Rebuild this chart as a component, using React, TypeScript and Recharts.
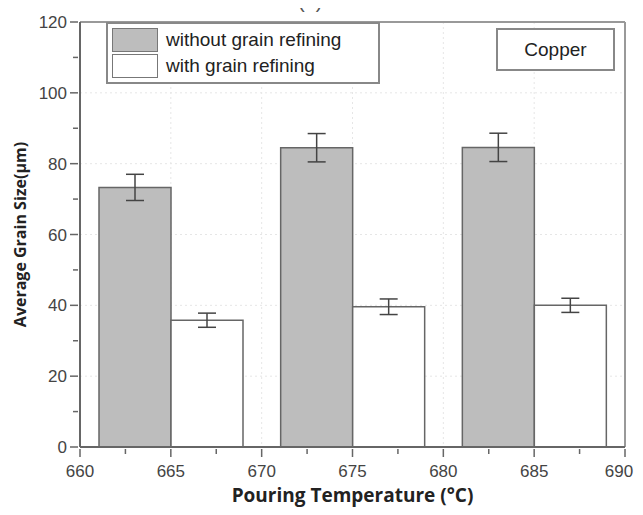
import { BarChart, Bar, XAxis, YAxis, CartesianGrid, ErrorBar, Legend, ReferenceLine } from 'recharts';

const temps = [665, 675, 685];
const withoutRefining = [73.3, 84.5, 84.6];
const withoutErr = [3.7, 4, 4];
const withRefining = [35.8, 39.6, 40];
const withErr = [2, 2.2, 2];

const xMajor = [660, 665, 670, 675, 680, 685, 690];
const xMinor = [662.5, 667.5, 672.5, 677.5, 682.5, 687.5];
const yMajor = [0, 20, 40, 60, 80, 100, 120];
const yMinor = [10, 30, 50, 70, 90, 110];

const seriesNames = ['without grain refining', 'with grain refining'];

const data = temps.map((t, i) => ({
  temp: t,
  without: withoutRefining[i],
  withoutErr: withoutErr[i],
  with: withRefining[i],
  withErr: withErr[i],
}));

const axisColor = '#666';
const tickFont = 'Arial, "Liberation Sans", sans-serif';

const XTick = (props: any) => {
  const { x, y, payload } = props;
  const major = xMajor.includes(payload.value);
  // keep the last label inside the page edge
  const dx = payload.value === 690 ? -6 : 0;
  return (
    <g>
      <line x1={x} x2={x} y1={y} y2={y + (major ? 8 : 5)} stroke={axisColor} strokeWidth={1.5} />
      {major && (
        <text x={x + dx} y={y + 28} textAnchor="middle" fontSize={17} fill="#444" fontFamily={tickFont}>{payload.value}</text>
      )}
    </g>
  );
};

const YTick = (props: any) => {
  const { x, y, payload } = props;
  const major = yMajor.includes(payload.value);
  return (
    <g>
      <line x1={x} x2={x - (major ? 8 : 5)} y1={y} y2={y} stroke={axisColor} strokeWidth={1.5} />
      {major && (
        <text x={x - 11} y={y + 6} textAnchor="end" fontSize={17} fill="#444" fontFamily={tickFont}>{payload.value}</text>
      )}
    </g>
  );
};

const LegendBox = (props: any) => {
  const items = [...(props.payload || [])].sort(
    (a: any, b: any) => seriesNames.indexOf(a.value) - seriesNames.indexOf(b.value)
  );
  return (
    <div style={{ border: '2px solid #888', background: '#fff', width: 262, padding: '3px 4px', fontFamily: tickFont }}>
      {items.map((p: any) => (
        <div key={p.value} style={{ display: 'flex', alignItems: 'center', height: 26 }}>
          <div style={{ width: 44, height: 22, background: p.payload.fill, border: '1.5px solid #777', marginRight: 8 }} />
          <span style={{ fontSize: 19, color: '#222' }}>{p.value}</span>
        </div>
      ))}
    </div>
  );
};

export default function App() {
  return (
    <div style={{ position: 'relative', width: 635, height: 507, margin: '-8px 0 0 -8px' }}>
      <div style={{ position: 'absolute', left: 298, top: -10, fontSize: 20, fontFamily: tickFont, color: '#555' }}>(a)</div>
      <BarChart width={635} height={507} data={data} margin={{ top: 22, right: 10, left: 0, bottom: 5 }} barSize={72} barGap={0}>
        <CartesianGrid stroke="#e6e6e6" strokeDasharray="2 3" horizontalValues={[20, 40, 60, 80, 100]} verticalValues={[665, 670, 675, 680, 685]} />
        <XAxis
          type="number"
          dataKey="temp"
          domain={[660, 690]}
          ticks={[...xMajor, ...xMinor].sort((a, b) => a - b)}
          interval={0}
          tick={<XTick />}
          tickLine={false}
          tickSize={0}
          stroke={axisColor}
          strokeWidth={2}
          height={55}
          label={{ value: 'Pouring Temperature (°C)', position: 'insideBottom', offset: 0, style: { fontSize: 19, fontWeight: 700, fill: '#222', fontFamily: '"Open Sans", sans-serif' } }}
        />
        <YAxis
          type="number"
          domain={[0, 120]}
          ticks={[...yMajor, ...yMinor].sort((a, b) => a - b)}
          interval={0}
          tick={<YTick />}
          tickLine={false}
          tickSize={0}
          stroke={axisColor}
          strokeWidth={2}
          width={80}
          label={{ value: 'Average Grain Size(μm)', angle: -90, position: 'insideLeft', offset: 20, style: { textAnchor: 'middle', fontSize: 16, fontWeight: 700, fill: '#222', fontFamily: '"Open Sans", sans-serif' } }}
        />
        <ReferenceLine y={120} stroke="#999" strokeWidth={2} />
        <ReferenceLine x={690} stroke="#999" strokeWidth={2} />
        <Legend
          layout="vertical"
          align="center"
          verticalAlign="middle"
          content={<LegendBox />}
          wrapperStyle={{ position: 'absolute', top: 22, left: 106, width: 'auto', height: 'auto' }}
        />
        <Bar dataKey="without" name={seriesNames[0]} fill="#bdbdbd" stroke="#666" strokeWidth={1.5} isAnimationActive={false}>
          <ErrorBar dataKey="withoutErr" width={9} stroke="#444" strokeWidth={1.5} />
        </Bar>
        <Bar dataKey="with" name={seriesNames[1]} fill="#ffffff" stroke="#666" strokeWidth={1.5} isAnimationActive={false}>
          <ErrorBar dataKey="withErr" width={9} stroke="#444" strokeWidth={1.5} />
        </Bar>
      </BarChart>
      <div style={{ position: 'absolute', left: 496, top: 28, width: 115, height: 39, border: '2px solid #888', background: '#fff', display: 'flex', alignItems: 'center', justifyContent: 'center', fontSize: 19, fontFamily: tickFont, color: '#222' }}>
        Copper
      </div>
    </div>
  );
}
